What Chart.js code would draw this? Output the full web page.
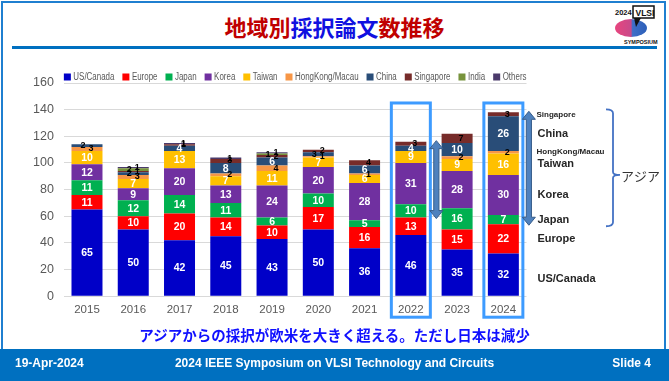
<!DOCTYPE html>
<html><head><meta charset="utf-8">
<script src="https://cdn.jsdelivr.net/npm/chart.js@4.4.1/dist/chart.umd.min.js"></script>
<style>
html,body{margin:0;padding:0;background:#fff;}
body{width:669px;height:381px;position:relative;overflow:hidden;font-family:"Liberation Sans",Arial,sans-serif;}
#frame{position:absolute;left:1px;top:1px;width:665px;height:350px;border:2px solid #1f7fd0;box-sizing:border-box;}
#title{position:absolute;left:0;width:669px;top:11px;text-align:center;font-family:"Noto Sans CJK JP";font-weight:700;font-size:22px;line-height:30px;}
#rule{position:absolute;left:12px;top:46px;width:645px;height:3px;background:#0070c0;}
#wrap{position:absolute;left:0;top:60px;width:669px;height:270px;}
#msg{position:absolute;left:0;width:669px;top:324px;text-align:center;font-family:"Noto Sans CJK JP";font-weight:700;font-size:14.5px;color:#1010ff;line-height:22px;}
#footer{position:absolute;left:0;top:349px;width:669px;height:32px;background:#0070c0;color:#fff;font-weight:700;font-size:12px;line-height:28px;}
#footer span{position:absolute;top:0;}
#logo{position:absolute;left:612px;top:3px;}
</style></head>
<body>
<div id="frame"></div>
<div id="title"><span style="color:#c00000">地域別</span><span style="color:#1010e0">採択論文</span><span style="color:#c00000">数推移</span></div>
<div id="rule"></div>
<svg id="logo" width="48" height="44" viewBox="0 0 48 44">
  <defs><linearGradient id="g" x1="0" x2="1" y1="0" y2="0"><stop offset="0" stop-color="#e8457e"/><stop offset="0.5" stop-color="#c84a8a"/><stop offset="0.55" stop-color="#3f6fc8"/><stop offset="1" stop-color="#2c5fb8"/></linearGradient></defs>
  <ellipse cx="19" cy="25" rx="16" ry="9" fill="url(#g)"/>
  <polygon points="22,15 30,13 24,24" fill="#111"/>
  <text x="3" y="12" font-family="Liberation Sans" font-weight="700" font-size="7.5" fill="#111">2024</text>
  <rect x="21" y="3" width="21" height="12" fill="#fff" stroke="#111" stroke-width="1.5"/>
  <text x="23.5" y="12.5" font-family="Liberation Sans" font-weight="700" font-size="8.5" fill="#111">VLSI</text>
  <text x="12" y="41" font-family="Liberation Sans" font-weight="700" font-size="5.5" fill="#111">SYMPOSIUM</text>
</svg>
<div id="wrap"><canvas id="c" width="669" height="270"></canvas></div>
<div id="msg">アジアからの採択が欧米を大きく超える。ただし日本は減少</div>
<div id="footer"><span style="left:15px">19-Apr-2024</span><span style="left:0;width:669px;text-align:center">2024 IEEE Symposium on VLSI Technology and Circuits</span><span style="right:18px">Slide 4</span></div>
<script>
const years = ['2015','2016','2017','2018','2019','2020','2021','2022','2023','2024'];
const usCanada  = [65,50,42,45,43,50,36,46,35,32];
const europe    = [11,10,20,14,10,17,16,13,15,22];
const japan     = [11,12,14,11, 6,10, 5,10,16, 7];
const korea     = [12, 9,20,13,24,20,28,31,28,30];
const taiwan    = [10, 7,13, 7,11, 7, 6, 9, 9,16];
const hongKong  = [ 3, 3, 0, 2, 4, 1, 1, 0, 2, 2];
const china     = [ 2, 2, 4, 8, 6, 3, 6, 4,10,26];
const singapore = [ 0, 1, 1, 3, 2, 2, 4, 3, 7, 3];
const india     = [ 0, 2, 0, 0, 1, 0, 0, 0, 0, 0];
const others    = [ 0, 1, 1, 1, 1, 0, 0, 0, 0, 0];
const seriesNames  = ['US/Canada','Europe','Japan','Korea','Taiwan','HongKong/Macau','China','Singapore','India','Others'];
const seriesColors = ['#0000c8','#ff0000','#00b050','#7030a0','#ffc000','#f79646','#294d78','#772c2a','#77933c','#4b3a6b'];
const yTicks = [0,20,40,60,80,100,120,140,160];
const highlightYears = ['2022','2024'];
const asiaLabel = 'アジア';

const seriesValues = [usCanada,europe,japan,korea,taiwan,hongKong,china,singapore,india,others];

function dblArrow(ctx,x,y1,y2){
  const sw=2.6, hw=6.5, hl=8;
  ctx.beginPath();
  ctx.moveTo(x,y1); ctx.lineTo(x+hw,y1+hl); ctx.lineTo(x+sw,y1+hl); ctx.lineTo(x+sw,y2-hl);
  ctx.lineTo(x+hw,y2-hl); ctx.lineTo(x,y2); ctx.lineTo(x-hw,y2-hl); ctx.lineTo(x-sw,y2-hl);
  ctx.lineTo(x-sw,y1+hl); ctx.lineTo(x-hw,y1+hl); ctx.closePath();
  ctx.fillStyle='#4f81bd'; ctx.fill(); ctx.strokeStyle='#385d8a'; ctx.lineWidth=1; ctx.stroke();
}

const overlay = {
  id:'overlay',
  afterDatasetsDraw(chart){
    const ctx=chart.ctx;
    ctx.save();
    ctx.textAlign='center'; ctx.textBaseline='middle';
    chart.data.datasets.forEach((ds,di)=>{
      const meta=chart.getDatasetMeta(di);
      meta.data.forEach((el,i)=>{
        const v=ds.data[i];
        if(!v) return;
        const cy=(el.y+el.base)/2;
        const big = v>=4 && di<=6 && di!==5;
        if(big){ ctx.fillStyle='#fff'; ctx.font='bold 10.5px "Liberation Sans"'; ctx.fillText(String(v), el.x, cy+0.5); }
        else { ctx.fillStyle='#000'; ctx.font='bold 9px "Liberation Sans"'; ctx.fillText(String(v), el.x + (di%2?4:-4), cy); }
      });
    });
    ctx.restore();
  },
  afterDraw(chart){
    const ctx=chart.ctx, area=chart.chartArea, xs=chart.scales.x, ys=chart.scales.y;
    ctx.save();
    // legend
    ctx.font='10px "Liberation Sans"';
    const ds=chart.data.datasets;
    const widths=ds.map(d=>ctx.measureText(d.label).width);
    const box=7, gapIn=2.5, gapOut=8;
    const sum=widths.reduce((a,b)=>a+b,0);
    const f=Math.min(1,(area.width-ds.length*(box+gapIn)-(ds.length-1)*gapOut)/sum);
    let lx=area.left; const ly=area.top-6;
    ds.forEach((d,i)=>{
      ctx.fillStyle=d.backgroundColor; ctx.fillRect(lx,ly-box/2,box,box);
      lx+=box+gapIn;
      ctx.save(); ctx.translate(lx,ly); ctx.scale(f,1);
      ctx.fillStyle='#595959'; ctx.textBaseline='middle'; ctx.textAlign='left'; ctx.fillText(d.label,0,0);
      ctx.restore();
      lx+=widths[i]*f+gapOut;
    });
    // highlight boxes and arrows
    highlightYears.forEach(yr=>{
      const i=years.indexOf(yr);
      const cx=xs.getPixelForValue(i);
      ctx.strokeStyle='#3d9bff'; ctx.lineWidth=3;
      ctx.strokeRect(cx-19.5, ys.getPixelForValue(145), 39, area.bottom+21-ys.getPixelForValue(145));
      const total=seriesValues.reduce((a,s)=>a+s[i],0);
      const base=usCanada[i]+europe[i];
      dblArrow(ctx, cx+25.5, ys.getPixelForValue(total)-1, ys.getPixelForValue(base)+1);
    });
    // right labels from last bar
    const last=years.length-1;
    ctx.fillStyle='#262626'; ctx.textAlign='left'; ctx.textBaseline='middle';
    for(let di=0; di<8; di++){
      const el=chart.getDatasetMeta(di).data[last];
      let cy=(el.y+el.base)/2;
      if(di===0) cy+=4;
      const small=(di===5||di===7);
      ctx.font = small ? 'bold 8px "Liberation Sans"' : 'bold 11px "Liberation Sans"';
      ctx.fillText(ds[di].label, area.right+(small?10:11), cy);
    }
    // brace
    const tot=seriesValues.reduce((a,s)=>a+s[last],0);
    const yTop=ys.getPixelForValue(tot)-3;
    const yBot=ys.getPixelForValue(usCanada[last]+europe[last])+2;
    const yMid=ys.getPixelForValue(usCanada[last]+europe[last]+japan[last]+korea[last]);
    const bx=area.right+86.5;
    ctx.strokeStyle='#4472c4'; ctx.lineWidth=1.8;
    ctx.beginPath();
    ctx.moveTo(bx-7,yTop); ctx.quadraticCurveTo(bx,yTop,bx,yTop+4);
    ctx.lineTo(bx,yMid-3); ctx.quadraticCurveTo(bx,yMid,bx+7,yMid);
    ctx.quadraticCurveTo(bx,yMid,bx,yMid+3);
    ctx.lineTo(bx,yBot-4); ctx.quadraticCurveTo(bx,yBot,bx-7,yBot);
    ctx.stroke();
    ctx.fillStyle='#333'; ctx.font='13px "Noto Sans CJK JP"';
    ctx.fillText(asiaLabel, bx+8, yMid+1);
    ctx.restore();
  }
};

new Chart(document.getElementById('c'), {
  type:'bar',
  data:{
    labels:years,
    datasets:seriesNames.map((n,k)=>({label:n, data:seriesValues[k], backgroundColor:seriesColors[k], borderWidth:0}))
  },
  options:{
    responsive:false, animation:false,
    layout:{padding:{left:23,right:142.5,top:23,bottom:6}},
    datasets:{bar:{barPercentage:0.67,categoryPercentage:1}},
    plugins:{legend:{display:false},tooltip:{enabled:false}},
    scales:{
      x:{stacked:true, grid:{display:false,drawTicks:false}, border:{display:false},
         ticks:{color:'#595959', font:{size:11.5,family:'Liberation Sans'}, padding:7}},
      y:{stacked:true, min:0, max:160, grid:{color:'#d9d9d9',drawTicks:false}, border:{display:false},
         afterBuildTicks:(s)=>{s.ticks=yTicks.map(v=>({value:v}));},
         ticks:{color:'#595959', font:{size:12.5,family:'Liberation Sans'}, padding:10}}
    }
  },
  plugins:[overlay]
});
</script>
</body></html>
